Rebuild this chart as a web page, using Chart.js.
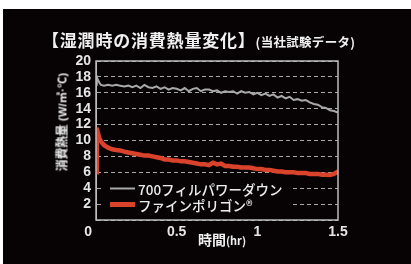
<!DOCTYPE html>
<html>
<head>
<meta charset="utf-8">
<script src="https://cdn.jsdelivr.net/npm/chart.js@4/dist/chart.umd.min.js"></script>
<style>
  body { margin: 0; background: #fff; width: 411px; height: 264px; overflow: hidden; }
  #wrap { position: absolute; left: 3px; top: 9px; width: 408px; height: 255px; background: #070203; }
  #chart { position: absolute; left: 0; top: 0; }
  .txt { position: absolute; white-space: nowrap; color: #f0f0f0; font-family: "Noto Sans CJK JP", sans-serif; font-weight: 700; }
  #title { left: 39px; top: 21px; line-height: 20px; font-size: 17px; letter-spacing: 0.8px; }
  #title small { font-size: 12.5px; letter-spacing: 0.3px; }
  #ytitle { left: 59px; top: 113px; transform: translate(-50%, -50%) rotate(-90deg); font-size: 12px; line-height: 13px; letter-spacing: -0.3px; }
  #ytitle small { font-size: 11px; letter-spacing: 0.3px; font-family: "Liberation Sans", "Noto Sans CJK JP", sans-serif; }
  #xtitle { left: 219px; top: 231px; transform: translate(-50%, -50%); font-size: 14px; line-height: 15px; }
  #xtitle small { font-size: 11px; }
</style>
</head>
<body>
<div id="wrap">
  <canvas id="chart" width="408" height="255"></canvas>
  <div class="txt" id="title">【湿潤時の消費熱量変化】<small>(当社試験データ)</small></div>
  <div class="txt" id="ytitle">消費熱量<small> (W/㎡·℃)</small></div>
  <div class="txt" id="xtitle">時間<small>(hr)</small></div>
</div>
<script>
// time (hr)
const hours = [
  0, 0.005, 0.01, 0.02, 0.03, 0.05, 0.075, 0.1, 0.125, 0.15, 0.175, 0.2, 0.225, 0.25, 0.275,
  0.3, 0.325, 0.35, 0.375, 0.4, 0.425, 0.45, 0.475, 0.5, 0.525, 0.55, 0.575, 0.6, 0.625,
  0.65, 0.675, 0.7, 0.725, 0.75, 0.775, 0.8, 0.825, 0.85, 0.875, 0.9, 0.925, 0.95, 0.975,
  1.0, 1.025, 1.05, 1.075, 1.1, 1.125, 1.15, 1.175, 1.2, 1.225, 1.25, 1.275, 1.3, 1.325,
  1.35, 1.375, 1.4, 1.425, 1.45, 1.475, 1.5
];

// 700フィルパワーダウン
const downValues = [
  17.0, 18.0, 17.7, 17.3, 17.0, 16.9, 17.0, 16.9, 17.0, 16.9, 16.8, 16.9, 16.7, 16.9, 16.6,
  17.0, 16.7, 16.6, 16.8, 16.5, 16.7, 16.4, 16.6, 16.5, 16.3, 16.6, 16.2, 16.5, 16.6,
  16.2, 16.4, 16.4, 16.2, 16.3, 16.0, 16.2, 16.1, 16.2, 15.9, 16.2, 16.0, 16.1, 15.8,
  16.0, 15.7, 15.9, 15.6, 15.8, 15.4, 15.6, 15.3, 15.5, 15.1, 15.2, 15.0, 15.1, 14.8,
  14.6, 14.5, 14.2, 14.1, 13.8, 13.7, 13.5
];

// ファインポリゴン
const polyValues = [
  6.0, 11.6, 11.1, 10.3, 9.9, 9.4, 9.1, 8.9, 8.8, 8.75, 8.6, 8.5, 8.4, 8.3, 8.2,
  8.1, 8.1, 8.0, 7.9, 7.8, 7.6, 7.6, 7.5, 7.5, 7.4, 7.4, 7.3, 7.2, 7.1,
  7.0, 7.0, 6.9, 7.2, 7.0, 7.1, 6.8, 6.8, 6.7, 6.7, 6.6, 6.6, 6.6, 6.5,
  6.4, 6.4, 6.3, 6.3, 6.2, 6.1, 6.1, 6.0, 6.0, 6.0, 5.9, 5.9, 5.9, 5.8,
  5.8, 5.8, 5.7, 5.7, 5.65, 5.8, 6.1
];

const seriesLabels = ["700フィルパワーダウン", "ファインポリゴン®"];
const yTicks = [0, 2, 4, 6, 8, 10, 12, 14, 16, 18, 20];
const xTicks = [0, 0.5, 1, 1.5];

const toPoints = vals => vals.map((v, i) => ({ x: hours[i], y: v }));

const tickFont = { family: "Liberation Sans", size: 14, weight: "bold" };

// legend drawn inside the plot, over the grid
const insideLegend = {
  id: "insideLegend",
  afterDraw(chart) {
    const { ctx, chartArea } = chart;
    const y = chart.scales.y;
    const left = chartArea.left + 7;
    const top = y.getPixelForValue(5.1);
    const bottom = y.getPixelForValue(1);
    ctx.save();
    ctx.fillStyle = "#070203";
    ctx.fillRect(left, top, 190, bottom - top);
    const rows = [4, 2];
    chart.data.datasets.forEach((ds, i) => {
      const py = Math.round(y.getPixelForValue(rows[i])) + 0.5;
      ctx.strokeStyle = ds.borderColor;
      ctx.lineWidth = i === 0 ? 2 : 5;
      ctx.beginPath();
      ctx.moveTo(chartArea.left + 14, py);
      ctx.lineTo(chartArea.left + 39, py);
      ctx.stroke();
      ctx.fillStyle = "#ececec";
      ctx.font = "500 13.5px 'Noto Sans CJK JP'";
      ctx.textBaseline = "middle";
      ctx.fillText(ds.label, chartArea.left + 42, py + 1);
    });
    ctx.restore();
  }
};

const frame = {
  id: "frame",
  afterDatasetsDraw(chart) {
    const { ctx, chartArea } = chart;
    ctx.save();
    ctx.strokeStyle = "#bdbdbd";
    ctx.lineWidth = 1.5;
    ctx.strokeRect(chartArea.left, chartArea.top, chartArea.right - chartArea.left, chartArea.bottom - chartArea.top);
    ctx.restore();
  }
};

new Chart(document.getElementById("chart"), {
  type: "line",
  data: {
    datasets: [
      {
        label: seriesLabels[0],
        data: toPoints(downValues),
        borderColor: "#a9a9a9",
        borderWidth: 2,
        pointRadius: 0,
        tension: 0,
      },
      {
        label: seriesLabels[1],
        data: toPoints(polyValues),
        borderColor: "#d9432b",
        borderWidth: 4.5,
        pointRadius: 0,
        tension: 0,
      },
    ],
  },
  options: {
    responsive: false,
    animation: false,
    events: [],
    layout: { padding: { top: 52, right: 73, left: 0, bottom: 0 } },
    plugins: { legend: { display: false }, tooltip: { enabled: false } },
    scales: {
      x: {
        type: "linear",
        min: 0,
        max: 1.5,
        afterFit: s => { s.height = 44; },
        afterBuildTicks: s => { s.ticks = xTicks.map(v => ({ value: v })); },
        ticks: {
          color: "#e6e6e6",
          font: tickFont,
          padding: 4,
          maxRotation: 0,
          autoSkip: false,
          callback: v => (v === 0 ? "0    " : String(v)),
        },
        grid: { display: false, drawTicks: false },
        border: { display: false },
      },
      y: {
        min: 0,
        max: 20,
        afterFit: s => { s.width = 93; },
        afterBuildTicks: s => { s.ticks = yTicks.map(v => ({ value: v })); },
        ticks: {
          color: "#e6e6e6",
          font: tickFont,
          padding: 5,
          autoSkip: false,
          callback: v => (v === 0 ? "" : String(v)),
        },
        grid: { color: "#a8a8a8", lineWidth: 1, drawTicks: false },
        border: { display: true, color: "#bdbdbd", dash: [4, 3] },
      },
    },
  },
  plugins: [insideLegend, frame],
});
</script>
</body>
</html>
